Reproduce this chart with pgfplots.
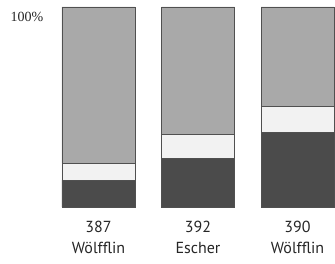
\documentclass[border=0pt]{standalone}
\usepackage{pgfplots}
\pgfplotsset{compat=1.18}
\usepackage{fontspec}
\setmainfont{PT Sans}
\newfontfamily\seriffont{Liberation Serif}
\definecolor{darkbar}{HTML}{4B4B4B}
\definecolor{lightbar}{HTML}{F2F2F2}
\definecolor{graybar}{HTML}{A9A9A9}
\definecolor{edge}{HTML}{505050}
\begin{document}
\begin{tikzpicture}
\useasboundingbox (-98.5bp,-57bp) rectangle (236.5bp,207bp);
\begin{axis}[
  at={(0,0)}, anchor=origin,
  x=99.5bp, y=2bp,
  xmin=-0.5, xmax=2.5, ymin=0, ymax=100,
  hide axis, clip=false,
  ybar stacked, bar width=73bp,
]
\addplot[fill=darkbar, draw=edge, line width=0.8pt] coordinates {(0,13.5) (1,24.5) (2,37.5)};
\addplot[fill=lightbar, draw=edge, line width=0.8pt] coordinates {(0,8.5) (1,12) (2,13)};
\addplot[fill=graybar, draw=edge, line width=0.8pt] coordinates {(0,78) (1,63.5) (2,49.5)};
\node[font=\fontsize{16bp}{18bp}\selectfont, text=black!85] at (axis cs:0,-10) {387};
\node[font=\fontsize{16bp}{18bp}\selectfont, text=black!85] at (axis cs:1,-10) {392};
\node[font=\fontsize{16bp}{18bp}\selectfont, text=black!85] at (axis cs:2,-10) {390};
\node[font=\fontsize{16bp}{18bp}\selectfont, text=black!85] at (axis cs:0,-20.5) {Wölfflin};
\node[font=\fontsize{16bp}{18bp}\selectfont, text=black!85] at (axis cs:1,-20.5) {Escher};
\node[font=\fontsize{16bp}{18bp}\selectfont, text=black!85] at (axis cs:2,-20.5) {Wölfflin};
\node[font=\fontsize{14bp}{16bp}\selectfont\seriffont, text=black!85] at (axis cs:-0.72,95) {100\%};
\end{axis}
\end{tikzpicture}
\end{document}
